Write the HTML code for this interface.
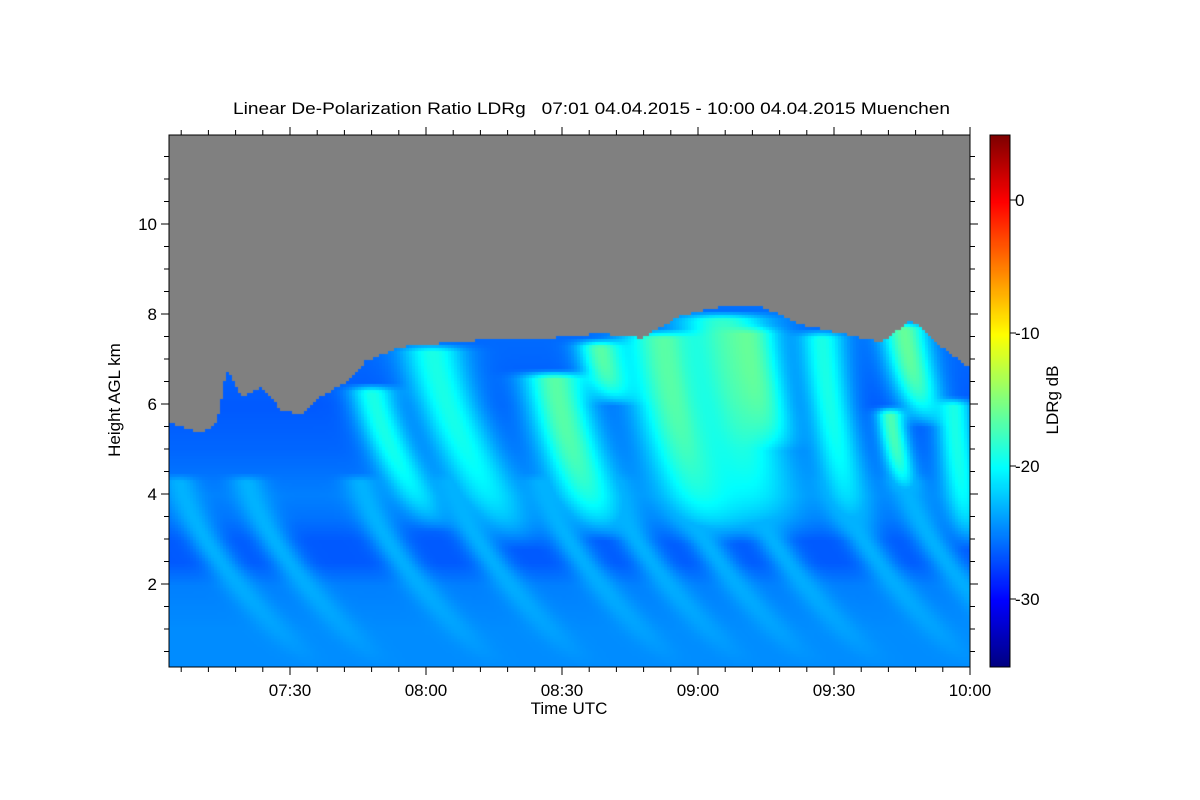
<!DOCTYPE html>
<html><head><meta charset="utf-8"><style>
body{margin:0;background:#fff;width:1200px;height:800px;overflow:hidden;font-family:"Liberation Sans",sans-serif}
#wrap{position:relative;width:1200px;height:800px}
canvas{position:absolute}
svg{position:absolute;left:0;top:0}
</style></head><body>
<div id="wrap">
<canvas id="hm" width="801" height="532" style="left:169px;top:135px"></canvas>
<canvas id="cb" width="20" height="532" style="left:990px;top:135px"></canvas>
<svg id="ax" width="1200" height="800"></svg>
</div>
<script>
// time in minutes after 07:00, heights in km, values in dB
const topTimes=[3.3,10,13.5,15.7,19,23.4,27.8,32.2,36.6,43.2,46.5,54.3,65.3,76.3,87.4,98.4,107.2,116,124.9,133.7,142.5,151.3,160.2,166.8,173.4,180];
const topHeights=[5.6,5.4,5.6,6.8,6.2,6.4,5.9,5.8,6.2,6.6,7.0,7.3,7.4,7.5,7.5,7.6,7.5,8.0,8.2,8.2,7.8,7.6,7.4,7.9,7.3,6.8];
const profHeights=[0.15,1,2,2.5,3,3.5,4,5,6,7,8.5];
const profValues=[-24.5,-24.5,-25,-26.5,-26.5,-25.5,-25,-26,-26.5,-26,-25.5];
const streakTime=[47.6,61,88,98,112,125,130,147,162,165,176,5,20,45,65,85,100,115,130,150,165];
const streakTop=[6.5,7.4,6.8,7.5,7.7,8.1,7.8,7.7,6.0,7.9,6.2,4.5,4.5,4.5,4.5,4.5,4.5,4.5,4.5,4.5,4.5];
const streakBottom=[3.2,2.8,3.0,6.0,2.9,3.0,5.0,3.0,4.0,5.5,2.8,0.2,0.2,0.2,0.2,0.2,0.2,0.2,0.2,0.2,0.2];
const streakDrift=[15,20,12,4,12,10,6,8,4,6,4,30,30,30,30,30,30,30,30,30,30];
const streakWidth=[5,7,7,5,9,10,6,5,3,5,4,4,4,4,4,4,4,4,4,4,4];
const streakValue=[-19,-19,-16.5,-16.5,-16.5,-18,-16,-19,-17,-16,-19,-23,-23,-23,-23,-23,-23,-23,-23,-23,-23];
const xTickLabels=["07:30","08:00","08:30","09:00","09:30","10:00"];
const yTickLabels=["2","4","6","8","10"];
const cbTickLabels=["0","-10","-20","-30"];

const X0=154,PXM=680/150; // x = X0 + PXM*t
const xs=t=>X0+PXM*t, ys=h=>674-45*h, vy=v=>200-13.3*v;
function interp(xa,ya,x){if(x<=xa[0])return ya[0];for(let i=1;i<xa.length;i++){if(x<=xa[i]){const f=(x-xa[i-1])/(xa[i]-xa[i-1]);return ya[i-1]+f*(ya[i]-ya[i-1]);}}return ya[ya.length-1];}
function jet(v){let f=(v+35)/40;f=Math.max(0,Math.min(1,f));
 const c=x=>Math.max(0,Math.min(1,x));
 return [c(1.5-Math.abs(4*f-3)),c(1.5-Math.abs(4*f-2)),c(1.5-Math.abs(4*f-1))].map(z=>Math.round(z*255));}
const hm=document.getElementById('hm'),ctx=hm.getContext('2d');
const S=3;
for(let px=0;px<801;px+=S){const t=(169+px-X0)/PXM;const top=interp(topTimes,topHeights,t);
 for(let py=0;py<532;py+=S){const h=(674-(135+py))/45;
  if(h>top){ctx.fillStyle='#808080';ctx.fillRect(px,py,S,S);continue;}
  let v=interp(profHeights,profValues,h);
  for(let i=0;i<streakTime.length;i++){const tp=streakTop[i],bt=streakBottom[i];
   if(h>tp||h<bt)continue;const fr=(tp-h)/(tp-bt);
   const c=streakTime[i]+streakDrift[i]*Math.pow(fr,1.5);const d=(t-c)/streakWidth[i];
   const taper=Math.min(1,(tp-h)/0.2);
   const s=Math.exp(-d*d)*(1-Math.pow(fr,4))*taper;const sv=v+(streakValue[i]-v)*s;if(sv>v)v=sv;}
  const [r,g,b]=jet(v);ctx.fillStyle=`rgb(${r},${g},${b})`;ctx.fillRect(px,py,S,S);}}
const cb=document.getElementById('cb').getContext('2d');
for(let py=0;py<532;py++){const v=5-40*py/532;const [r,g,b]=jet(v);cb.fillStyle=`rgb(${r},${g},${b})`;cb.fillRect(0,py,20,1);}

const svg=document.getElementById('ax');const NS='http://www.w3.org/2000/svg';
function el(tag,attrs,txt){const e=document.createElementNS(NS,tag);for(const k in attrs)e.setAttribute(k,attrs[k]);if(txt!==undefined)e.textContent=txt;svg.appendChild(e);return e;}
let e;
e=el('rect',{x:169,y:135,width:801,height:532,fill:'none',stroke:'#000','stroke-width':1});

e=el('rect',{x:990,y:135,width:20,height:532,fill:'none',stroke:'#000','stroke-width':1});

for(let t=6;t<=180;t+=6){const x=xs(t);if(x<169)continue;const major=t%30===0;const L=major?8:5;
 el('line',{x1:x,y1:667,x2:x,y2:667+L,stroke:'#000'});el('line',{x1:x,y1:135,x2:x,y2:135-L,stroke:'#000'});}
xTickLabels.forEach((s,i)=>{e=el('text',{x:xs(30+30*i),y:696,'text-anchor':'middle','font-size':17},s);
 });
for(let h=0.5;h<12;h+=0.5){const y=ys(h);if(y>667)continue;const major=h%2===0;const L=major?8:5;
 el('line',{x1:169,y1:y,x2:169-L,y2:y,stroke:'#000'});el('line',{x1:970,y1:y,x2:970+L,y2:y,stroke:'#000'});}
yTickLabels.forEach((s,i)=>{e=el('text',{x:157,y:ys(2+2*i)+6,'text-anchor':'end','font-size':17},s);
 });
cbTickLabels.forEach((s,i)=>{const v=-10*i;el('line',{x1:1010,y1:vy(v),x2:1016,y2:vy(v),stroke:'#000'});
 e=el('text',{x:1015,y:vy(v)+6,'font-size':17},s);});
e=el('text',{x:233,y:114,'font-size':17,textLength:717,lengthAdjust:'spacingAndGlyphs'},'Linear De-Polarization Ratio LDRg   07:01 04.04.2015 - 10:00 04.04.2015 Muenchen');
e.setAttribute('xml:space','preserve');e.style.whiteSpace='pre';
e=el('text',{x:569,y:714,'text-anchor':'middle','font-size':17},'Time UTC');

e=el('text',{x:120,y:400,'text-anchor':'middle','font-size':17,transform:'rotate(-90 120 400)'},'Height AGL km');

e=el('text',{x:1058,y:400,'text-anchor':'middle','font-size':17,transform:'rotate(-90 1058 400)'},'LDRg dB');

</script>
</body></html>
